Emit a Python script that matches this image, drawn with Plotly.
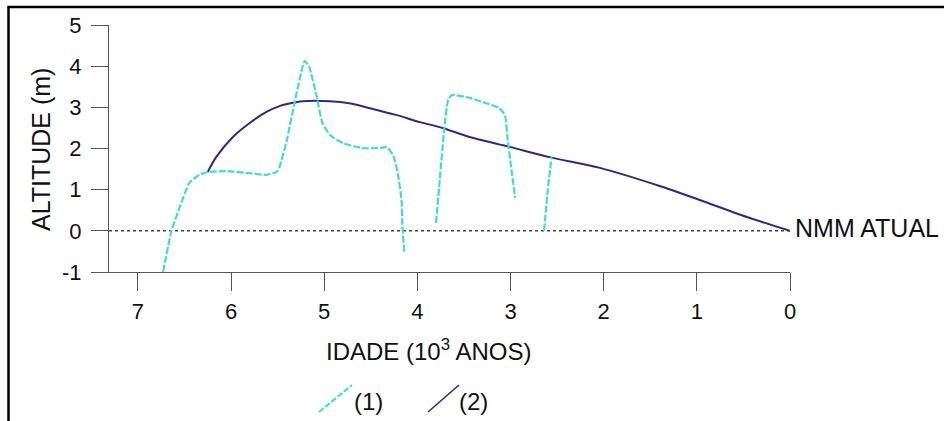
import plotly.graph_objects as go

# ---- data (age in 10^3 years, altitude in m) ----
curve1_a_age = [6.73, 6.64, 6.55, 6.45, 6.34, 6.25, 6.05, 5.80, 5.62, 5.51, 5.48, 5.40, 5.32, 5.24, 5.21, 5.16,
                5.08, 5.02, 4.94, 4.80, 4.59, 4.40, 4.33, 4.26, 4.21, 4.17, 4.16, 4.14]
curve1_a_alt = [-1.0, 0.0, 0.58, 1.16, 1.36, 1.43, 1.45, 1.40, 1.36, 1.43, 1.55, 2.21, 3.10, 3.91, 4.13, 3.98,
                3.25, 2.62, 2.33, 2.13, 2.01, 2.01, 2.04, 1.84, 1.40, 0.75, 0.09, -0.51]
curve1_b_age = [3.80, 3.76, 3.71, 3.67, 3.63, 3.44, 3.26, 3.12, 3.06, 3.03, 2.99, 2.95]
curve1_b_alt = [0.19, 1.23, 2.52, 3.18, 3.30, 3.23, 3.10, 2.98, 2.81, 2.21, 1.48, 0.80]
curve1_c_age = [2.64, 2.60, 2.56]
curve1_c_alt = [0.0, 0.99, 1.79]

curve2_age = [6.25, 6.16, 5.98, 5.80, 5.62, 5.48, 5.40, 5.23, 4.94, 4.73, 4.51, 4.22, 3.97, 3.73, 3.44,
              3.01, 2.58, 2.04, 1.40, 0.97, 0.43, 0.0]
curve2_alt = [1.43, 1.79, 2.28, 2.62, 2.89, 3.03, 3.08, 3.15, 3.15, 3.10, 2.98, 2.81, 2.64, 2.50, 2.28,
              2.04, 1.79, 1.53, 1.09, 0.75, 0.31, 0.0]

x_ticks = [7, 6, 5, 4, 3, 2, 1, 0]
y_ticks = [-1, 0, 1, 2, 3, 4, 5]
x_range = [7.31, 0]
y_range = [-1, 5]

CYAN = "#45d9d4"
NAVY = "#2a2a8c"
FONT = "Liberation Sans, Arial, sans-serif"

# geometry (pixels) of the plot area
W, H = 944, 421
L, R, T, B = 109, 154, 25, 149
PW, PH = W - L - R, H - T - B


def px(x):
    return (x - L) / PW


def py(y):
    return (H - B - y) / PH


c1_age = curve1_a_age + [None] + curve1_b_age + [None] + curve1_c_age
c1_alt = curve1_a_alt + [None] + curve1_b_alt + [None] + curve1_c_alt

fig = go.Figure()
fig.add_trace(go.Scatter(x=curve2_age, y=curve2_alt, mode="lines", name="(2)",
                         line=dict(color=NAVY, width=2, shape="spline", smoothing=0.8), showlegend=False))
fig.add_trace(go.Scatter(x=c1_age, y=c1_alt, mode="lines", name="(1)", connectgaps=False,
                         line=dict(color=CYAN, width=2.2, dash="7px,2px", shape="spline", smoothing=0.4),
                         showlegend=False))

shapes = [
    # present mean sea level
    dict(type="line", xref="paper", yref="y", x0=0, x1=1, y0=0, y1=0,
         line=dict(color="#444", width=1.5, dash="dot"), layer="below"),
    # figure frame
    dict(type="rect", xref="paper", yref="paper", x0=px(8.5), x1=px(960), y0=py(7), y1=py(440),
         line=dict(color="black", width=2.5)),
    # legend swatches
    dict(type="line", xref="paper", yref="paper", x0=px(319), y0=py(412), x1=px(352), y1=py(385),
         line=dict(color=CYAN, width=2, dash="6px,2px")),
    dict(type="line", xref="paper", yref="paper", x0=px(428), y0=py(412), x1=px(459), y1=py(385),
         line=dict(color=NAVY, width=1.6)),
]

annotations = [
    dict(text="NMM ATUAL", x=0, y=0, xref="x", yref="y", xanchor="left", yanchor="middle",
         xshift=3, yshift=3, showarrow=False, font=dict(size=25, color="#111", family=FONT)),
    dict(text="ALTITUDE (m)", x=px(41), y=py(150), xref="paper", yref="paper", textangle=-90,
         xanchor="center", yanchor="middle", showarrow=False, font=dict(size=25, color="#111", family=FONT)),
    dict(text="IDADE (10<sup>3</sup> ANOS)", x=px(428), y=py(350), xref="paper", yref="paper",
         xanchor="center", yanchor="middle", showarrow=False, font=dict(size=24, color="#111", family=FONT)),
    dict(text="(1)", x=px(352), y=py(401), xref="paper", yref="paper", xanchor="left", yanchor="middle",
         showarrow=False, font=dict(size=24, color="#111", family=FONT)),
    dict(text="(2)", x=px(457), y=py(401), xref="paper", yref="paper", xanchor="left", yanchor="middle",
         showarrow=False, font=dict(size=24, color="#111", family=FONT)),
]

fig.update_layout(
    width=W, height=H,
    margin=dict(l=L, r=R, t=T, b=B, pad=0),
    paper_bgcolor="white", plot_bgcolor="white",
    showlegend=False,
    shapes=shapes, annotations=annotations,
    font=dict(family=FONT, color="#111"),
    xaxis=dict(range=x_range, tickmode="array", tickvals=x_ticks, ticktext=[str(v) for v in x_ticks],
               showgrid=False, zeroline=False, showline=True, linecolor="#555", linewidth=1,
               ticks="outside", ticklen=18, tickcolor="#555", tickwidth=1,
               ticklabelstandoff=2, tickfont=dict(size=22, color="#111", family=FONT)),
    yaxis=dict(range=y_range, tickmode="array", tickvals=y_ticks, ticktext=[str(v) for v in y_ticks],
               showgrid=False, zeroline=False, showline=True, linecolor="#555", linewidth=1,
               ticks="outside", ticklen=17, tickcolor="#555", tickwidth=1,
               ticklabelstandoff=5, tickfont=dict(size=22, color="#111", family=FONT)),
)

fig.write_html("out.html", config={"displayModeBar": False, "staticPlot": True},
               post_script="document.body.style.margin='0';document.body.style.overflow='hidden';")
